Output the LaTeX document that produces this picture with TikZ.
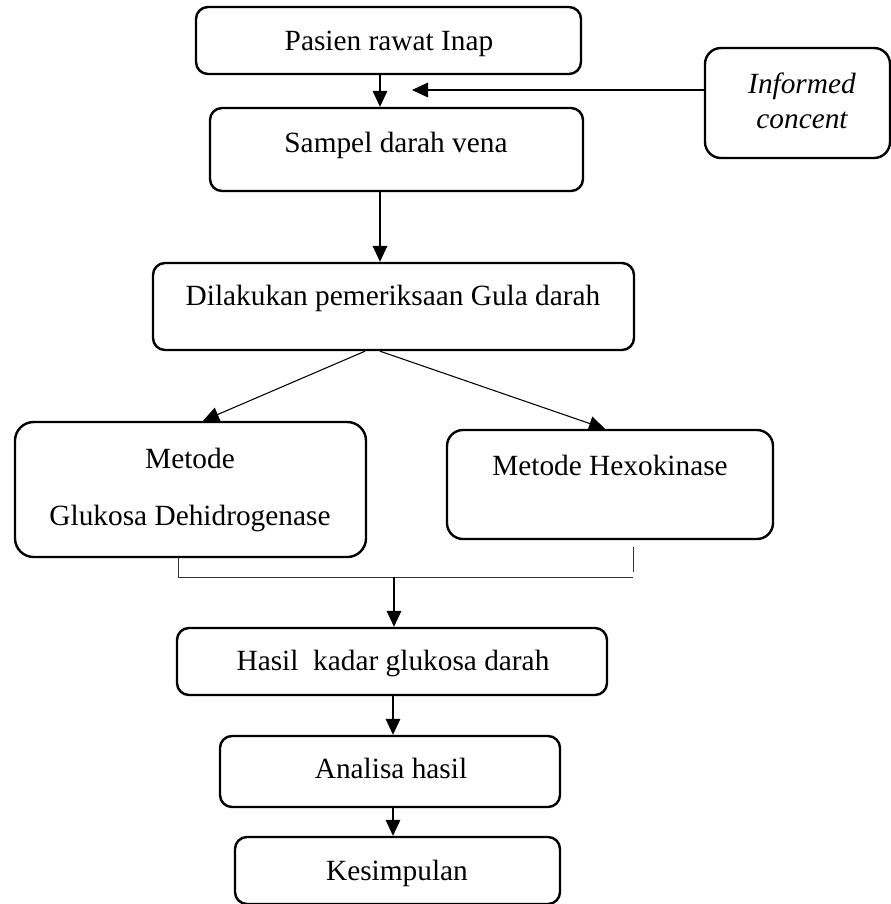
\documentclass[tikz,border=0pt]{standalone}
\usepackage{fontspec}
\setmainfont{Liberation Serif}
\usetikzlibrary{arrows.meta}
\begin{document}
\begin{tikzpicture}[x=0.75pt,y=-0.75pt,
  box/.style={draw,line width=1.8pt,rounded corners=9pt,inner sep=0pt},
  txt/.style={anchor=base,inner sep=0pt,font=\fontsize{22}{26}\selectfont},
  arr/.style={line width=0.8pt,-{Triangle[width=11pt,length=12pt]}},
  thinln/.style={line width=0.7pt,draw=black!80}]
\useasboundingbox (0,0) rectangle (891,904);

\node[box,minimum width=385*0.75pt,minimum height=67*0.75pt] (b1) at (388.5,40.5) {};
\node[txt] (t1) at (389,50) {Pasien rawat Inap};

\node[box,minimum width=373*0.75pt,minimum height=83*0.75pt] (b2) at (396.5,149.5) {};
\node[txt] (t2) at (396,152) {Sampel darah vena};

\node[box,rounded corners=12pt,minimum width=185*0.75pt,minimum height=110*0.75pt] (ic) at (797.5,103) {};
\node[txt,font=\fontsize{22}{26}\selectfont\itshape] (t3a) at (802,93) {Informed};
\node[txt,font=\fontsize{22}{26}\selectfont\itshape] (t3b) at (802,128) {concent};

\node[box,minimum width=481*0.75pt,minimum height=87*0.75pt] (b3) at (393.5,306.5) {};
\node[txt] (t4) at (393,305) {Dilakukan pemeriksaan Gula darah};

\node[box,rounded corners=14pt,minimum width=351*0.75pt,minimum height=135*0.75pt] (b4) at (190.5,489.5) {};
\node[txt] (t5a) at (190,468) {Metode};
\node[txt] (t5b) at (190,525) {Glukosa Dehidrogenase};

\node[box,rounded corners=12pt,minimum width=326*0.75pt,minimum height=109*0.75pt] (b5) at (610,484.5) {};
\node[txt] (t6) at (610,475) {Metode Hexokinase};

\node[box,minimum width=430*0.75pt,minimum height=67*0.75pt] (b6) at (392,661.5) {};
\node[txt] (t7) at (393,670) {Hasil\ \ kadar glukosa darah};

\node[box,minimum width=340*0.75pt,minimum height=71*0.75pt] (b7) at (390,771.5) {};
\node[txt] (t8) at (391,778) {Analisa hasil};

\node[box,minimum width=325*0.75pt,minimum height=67*0.75pt] (b8) at (397.5,870.5) {};
\node[txt] (t9) at (397,880) {Kesimpulan};

% connectors
\draw[arr] (380,0 |- b1.south) -- (380,0 |- b2.north);
\draw[arr] (380,0 |- b2.south) -- (380,0 |- b3.north);
\coordinate (ictip) at (412,90);
\draw[arr] (ic.west |- ictip) -- (ictip);
\draw[arr] (365,0 |- b3.south) -- (203,0 |- b4.north);
\draw[arr] (380,0 |- b3.south) -- (605,0 |- b5.north);
\coordinate (mj) at (394,577);
\coordinate (mr) at (633,577);
\draw[thinln] (178,0 |- b4.south) |- (mr);
\coordinate (rs1) at (633,547);
\coordinate (rs2) at (633,572);
\draw[thinln] (rs1) -- (rs2);
\draw[arr] (mj) -- (394,0 |- b6.north);
\draw[arr] (393,0 |- b6.south) -- (393,0 |- b7.north);
\draw[arr] (393,0 |- b7.south) -- (393,0 |- b8.north);
\end{tikzpicture}
\end{document}
